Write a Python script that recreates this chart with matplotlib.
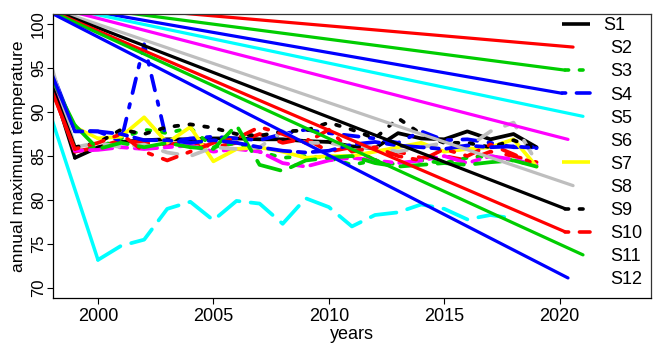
import matplotlib
matplotlib.use("Agg")
import matplotlib.pyplot as plt
import numpy as np

plt.rcParams['font.family'] = ['Liberation Sans Narrow', 'Liberation Sans', 'DejaVu Sans']

# --- data ---
years = list(range(1998, 2020))
nan = np.nan

s1 = [93.2, 84.8, 86.0, 86.6, 86.8, 86.9, 86.9, 87.0, 87.0, 86.9, 86.9, 86.7, 86.6, 86.1, 85.9, 87.6, 87.0, 86.9, 87.8, 86.9, 87.5, 86.0]
s2 = [92.6, 85.5, 86.0, 86.8, 86.5, 86.3, 86.6, 86.0, 86.5, 87.5, 86.5, 87.0, 85.5, 86.0, 84.5, 85.5, 84.8, 85.0, 84.5, 85.5, 85.0, 84.3]
s3 = [93.5, 86.0, 86.0, 87.0, 88.0, 87.6, 88.2, 86.0, 86.5, 85.5, 84.8, 85.0, 84.8, 84.0, 84.5, 84.0, 84.5, 84.2, 84.8, 85.0, 84.5, 83.9]
s4 = [94.6, 87.9, 87.8, 86.7, 97.7, 86.5, 87.0, 87.2, 87.0, 86.8, 87.5, 88.0, 87.6, 87.3, 87.0, 86.5, 87.8, 86.8, 86.9, 86.5, 86.0, 86.0]
s5 = [89.2, nan, 73.2, 74.8, 75.5, 79.0, 79.8, 77.7, 79.9, 79.6, 77.3, 80.2, 79.2, 77.0, 78.3, 78.6, 79.5, 79.0, 77.8, 78.3, 77.9, nan]
s6 = [93.7, 85.6, 85.7, 86.0, 85.8, 86.0, 86.2, 85.5, 85.8, 85.5, 84.2, 83.8, 84.5, 84.8, 84.5, 84.2, 84.5, 85.0, 84.2, 85.0, 84.6, 84.0]
s7 = [nan, 88.3, 87.0, 87.2, 89.4, 86.5, 88.3, 84.4, 85.8, 86.0, 85.5, 84.8, 85.0, 85.0, 85.5, 86.0, 86.5, 85.5, 85.8, 86.0, 86.9, 83.8]
s8 = [95.1, 86.0, 86.5, 86.0, 86.3, 85.4, 85.0, 86.0, 85.8, 86.0, 87.8, 86.5, 86.5, 86.0, 86.0, 85.5, 86.0, 86.5, 86.0, 87.8, 88.8, 84.3]
s9 = [93.0, 86.0, 86.5, 88.0, 87.5, 88.3, 88.6, 88.2, 87.5, 87.3, 87.8, 87.9, 88.8, 88.0, 87.0, 89.3, 87.5, 86.5, 86.5, 86.0, 86.8, 85.8]
s10 = [92.4, 85.8, 86.5, 87.5, 85.5, 84.5, 85.5, 86.5, 87.0, 88.3, 87.5, 86.5, 88.0, 85.5, 86.0, 85.0, 84.5, 85.8, 85.0, 86.3, 85.2, 84.0]
s11 = [93.8, 88.5, 85.8, 86.5, 86.0, 86.5, 86.0, 85.8, 88.5, 84.0, 83.3, 84.5, 84.8, 85.0, 84.2, 83.8, 84.0, 84.2, 84.0, 84.3, 84.5, 83.8]
s12 = [94.3, 87.8, 87.8, 87.5, 86.8, 86.8, 86.5, 86.8, 86.5, 86.0, 85.6, 85.4, 85.6, 86.3, 86.6, 86.2, 86.0, 85.8, 86.2, 86.0, 86.1, 85.9]

series = [s1, s2, s3, s4, s5, s6, s7, s8, s9, s10, s11, s12]
labels = ["S1", "S2", "S3", "S4", "S5", "S6", "S7", "S8", "S9", "S10", "S11", "S12"]

# legend rows (value units) and the stray trend lines ending at them
legend_y = [100.0, 97.38, 94.76, 92.13, 89.51, 86.89, 84.27, 81.64, 79.02, 76.40, 73.77, 71.15]
trend_end_x = [nan, 2020.58, 2020.23, 2020.10, 2021.01, 2020.36, nan, 2020.58, 2020.23, 2020.23, 2021.01, 2020.36]
trend_start = (1996.84, 102.78)
# which legend samples are still visible
legend_sample = [True, False, True, True, False, False, True, False, True, True, False, False]

# R palette + lty 1..6
colors = ["#000000", "#FF0000", "#00CD00", "#0000FF", "#00FFFF", "#FF00FF",
          "#FFFF00", "#BEBEBE"]
ltys = ["solid", (0, (4, 4)), (0, (1, 3)), (0, (1, 3, 4, 3)), (0, (7, 3)), (0, (2, 2, 6, 2))]

fig = plt.figure(figsize=(6.58, 3.47), dpi=100)
ax = fig.add_axes([0.0805, 0.1412, 0.909, 0.8185])

for i, vals in enumerate(series):
    col = colors[i % 8]
    ls = ltys[i % 6]
    x = np.array(years, dtype=float)
    y = np.array(vals, dtype=float)
    ok = ~np.isnan(y)
    x, y = x[ok], y[ok]
    ax.plot(x[1:], y[1:], color=col, linestyle=ls, lw=2.7,
            dash_capstyle='round', solid_capstyle='round', solid_joinstyle='round')
    # first segment is drawn solid
    ax.plot(x[:2], y[:2], color=col, lw=2.5, solid_capstyle='round')

# stray lines + legend
for i in range(12):
    col = colors[i % 8]
    if not np.isnan(trend_end_x[i]):
        ax.plot([trend_start[0], trend_end_x[i]], [trend_start[1], legend_y[i]],
                color=col, lw=2.3, solid_capstyle='round')
    if legend_sample[i]:
        x0 = trend_end_x[i] if not np.isnan(trend_end_x[i]) else 2020.10
        ax.plot([x0, 2021.32], [legend_y[i], legend_y[i]], color=col,
                linestyle=ltys[i % 6], lw=2.6, dash_capstyle='round',
                solid_capstyle='butt')
    tx = 2021.9 if i == 0 else 2022.2
    ax.text(tx, legend_y[i] - 0.2, labels[i], fontsize=13, ha='left', va='center')

ax.set_xlim(1998.05, 2023.96)
ax.set_ylim(68.87, 101.14)
ax.set_xticks([2000, 2005, 2010, 2015, 2020])
ax.set_yticks([70, 75, 80, 85, 90, 95, 100])
ax.tick_params(axis='both', length=4, width=0.8, direction='out')
ax.tick_params(axis='x', pad=3, labelsize=13)
ax.tick_params(axis='y', pad=1, labelsize=12)
for lab in ax.get_yticklabels():
    lab.set_rotation(90)
    lab.set_va('center')
ax.set_xlabel("years", fontsize=13, labelpad=1)
ax.set_ylabel("annual maximum temperature", fontsize=12.5)
ax.yaxis.set_label_coords(-0.045, 0.5)
for sp in ax.spines.values():
    sp.set_linewidth(0.9)
    sp.set_color('#333333')
ax.spines['left'].set_color('black')
ax.spines['bottom'].set_color('black')

fig.savefig("out.png", dpi=100)
